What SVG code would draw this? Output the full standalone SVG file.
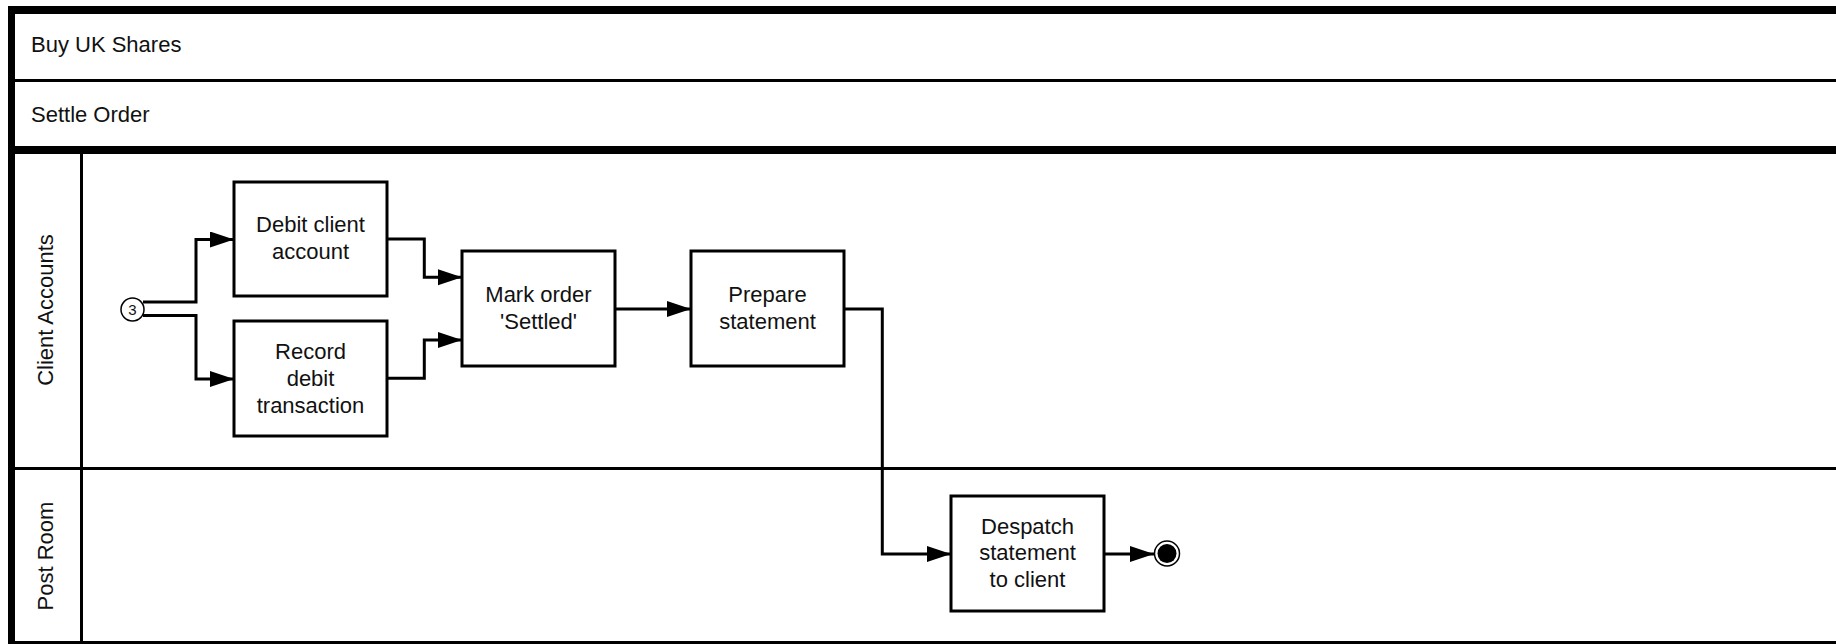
<svg xmlns="http://www.w3.org/2000/svg" width="1836" height="644" viewBox="0 0 1836 644">
<style>
text{font-family:"Liberation Sans",Arial,sans-serif;font-size:22px;fill:#111}
.box{fill:#fff;stroke:#000;stroke-width:3}
.c{text-anchor:middle}
.ln{fill:none;stroke:#000;stroke-width:3}
.conn{fill:none;stroke:#000;stroke-width:3;marker-end:url(#arr)}
</style>
<defs>
<marker id="arr" markerUnits="userSpaceOnUse" markerWidth="26" markerHeight="18" refX="24" refY="8" orient="auto">
<path d="M0,0 L24,8 L0,16 Z" fill="#000"/>
</marker>
</defs>
<rect width="1836" height="644" fill="#fff"/>
<g id="frame">
<rect x="8" y="6" width="1828" height="8" fill="#000"/>
<rect x="8" y="6" width="7" height="638" fill="#000"/>
<line class="ln" x1="15" y1="80.5" x2="1836" y2="80.5"/>
<rect x="15" y="146" width="1821" height="8" fill="#000"/>
<line class="ln" x1="81.5" y1="154" x2="81.5" y2="644"/>
<line class="ln" x1="15" y1="468.5" x2="1836" y2="468.5"/>
<line class="ln" x1="15" y1="642.5" x2="1836" y2="642.5"/>
<text x="31" y="52">Buy UK Shares</text>
<text x="31" y="122">Settle Order</text>
<text class="c" transform="translate(53,310) rotate(-90)">Client Accounts</text>
<text class="c" transform="translate(53,556) rotate(-90)">Post Room</text>
</g>
<g id="connectors">
<path class="conn" d="M143,302 H196 V239.5 H234"/>
<path class="conn" d="M143,315.5 H196 V379 H234"/>
<path class="conn" d="M387.5,239 H424.3 V277.3 H462"/>
<path class="conn" d="M387.5,378.3 H424.3 V340 H462"/>
<path class="conn" d="M615,309 H691"/>
<path class="conn" d="M845,309 H882.3 V554 H951"/>
<path class="conn" d="M1105,554 H1154"/>
</g>
<g id="start">
<circle cx="132.5" cy="309.5" r="11.5" fill="#fff" stroke="#000" stroke-width="1.5"/>
<text class="c" x="132.5" y="315" style="font-size:15px">3</text>
</g>
<g id="debit">
<rect class="box" x="234" y="182" width="153" height="114"/>
<text class="c" x="310.5" y="232">Debit client</text>
<text class="c" x="310.5" y="258.5">account</text>
</g>
<g id="record">
<rect class="box" x="234" y="321" width="153" height="115"/>
<text class="c" x="310.5" y="358.5">Record</text>
<text class="c" x="310.5" y="385.5">debit</text>
<text class="c" x="310.5" y="412.5">transaction</text>
</g>
<g id="mark">
<rect class="box" x="462" y="251" width="153" height="115"/>
<text class="c" x="538.5" y="301.5">Mark order</text>
<text class="c" x="538.5" y="328.5">'Settled'</text>
</g>
<g id="prepare">
<rect class="box" x="691" y="251" width="153" height="115"/>
<text class="c" x="767.5" y="301.5">Prepare</text>
<text class="c" x="767.5" y="328.5">statement</text>
</g>
<g id="despatch">
<rect class="box" x="951" y="496" width="153" height="115"/>
<text class="c" x="1027.5" y="533.5">Despatch</text>
<text class="c" x="1027.5" y="560">statement</text>
<text class="c" x="1027.5" y="587">to client</text>
</g>
<g id="end">
<circle cx="1167" cy="553.5" r="12.5" fill="#fff" stroke="#000" stroke-width="1.5"/>
<circle cx="1167" cy="553.5" r="9.5" fill="#000"/>
</g>
</svg>
